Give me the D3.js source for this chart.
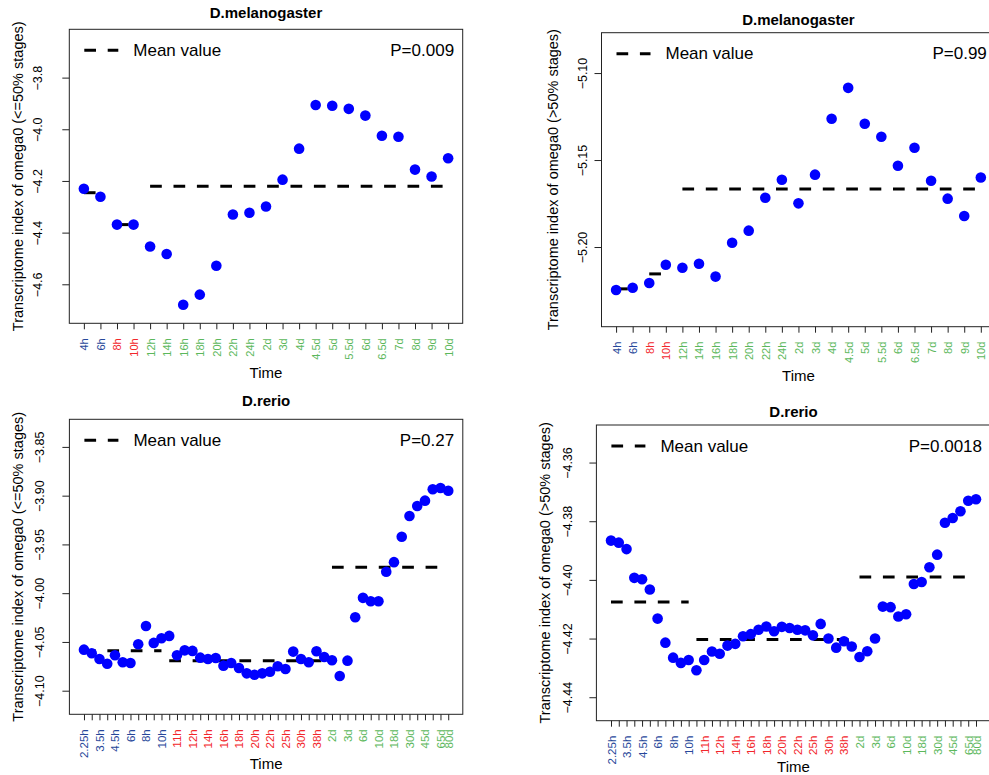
<!DOCTYPE html>
<html>
<head>
<meta charset="utf-8">
<script src="https://cdn.jsdelivr.net/npm/d3@7/dist/d3.min.js"></script>
<style>
  body { margin: 0; background: #fff; }
  text { font-family: "Liberation Sans", Arial, Helvetica, sans-serif; }
</style>
</head>
<body>
<div id="chart"></div>
<script>
// fly stages and the TAI values
const flyStages = ['4h', '6h', '8h', '10h', '12h', '14h', '16h', '18h', '20h', '22h', '24h', '2d', '3d', '4d',
    '4.5d', '5d', '5.5d', '6d', '6.5d', '7d', '8d', '9d', '10d'];
const flyGroupSizes = [2, 2, 19];
const flyEarlyTAI = [-4.230, -4.261, -4.369, -4.369, -4.454, -4.483, -4.679, -4.640, -4.528, -4.330, -4.323, -4.299,
    -4.195, -4.075, -3.906, -3.909, -3.921, -3.947, -4.025, -4.029, -4.156, -4.183, -4.112];
const flyLateTAI = [-5.2247, -5.2234, -5.2207, -5.2102, -5.2119, -5.2096, -5.2170, -5.1975, -5.1906, -5.1717, -5.1613,
    -5.1749, -5.1584, -5.1263, -5.1085, -5.1291, -5.1366, -5.1533, -5.1429, -5.1619, -5.1722, -5.1822, -5.1600];

// zebrafish: only every other stage carries a label in the figure
const zfStages = ['2.25h', '', '3.5h', '', '4.5h', '', '6h', '', '8h', '', '10h', '', '11h', '', '12h', '', '14h', '',
    '16h', '', '18h', '', '20h', '', '22h', '', '25h', '', '30h', '', '38h', '', '2d', '', '3d', '', '6d', '', '10d', '',
    '18d', '', '30d', '', '45d', '', '65d', '80d'];
const zfGroupSizes = [11, 21, 16];
const zfEarlyTAI = [-4.0579, -4.0616, -4.0675, -4.0723, -4.0637, -4.0709, -4.0716, -4.0524, -4.0336, -4.0510,
    -4.0462, -4.0438, -4.0637, -4.0586, -4.0592, -4.0661, -4.0675, -4.0664, -4.0743, -4.0716,
    -4.0767, -4.0822, -4.0836, -4.0822, -4.0805, -4.0750, -4.0777, -4.0599, -4.0675, -4.0709,
    -4.0596, -4.0654, -4.0688, -4.0849, -4.0692, -4.0247, -4.0048, -4.0082, -4.0082, -3.9781,
    -3.9682, -3.9421, -3.9209, -3.9106, -3.9051, -3.8935, -3.8921, -3.8949];
const zfLateTAI = [-4.3866, -4.3873, -4.3895, -4.3993, -4.3998, -4.4033, -4.4132, -4.4214, -4.4265, -4.4283,
    -4.4273, -4.4308, -4.4273, -4.4244, -4.4252, -4.4224, -4.4218, -4.4192, -4.4185, -4.4170,
    -4.4159, -4.4175, -4.4160, -4.4164, -4.4170, -4.4172, -4.4189, -4.4150, -4.4200, -4.4231,
    -4.4209, -4.4227, -4.4263, -4.4243, -4.4200, -4.4091, -4.4093, -4.4125, -4.4117, -4.4014,
    -4.4007, -4.3957, -4.3914, -4.3805, -4.3789, -4.3766, -4.3730, -4.3725];

const stageColors = ['#27479a', '#f2262b', '#5cb85c'];

const panels = [
    {
        title: 'D.melanogaster', stages: flyStages, groups: flyGroupSizes, values: flyEarlyTAI, pval: 'P=0.009',
        ylab: 'Transcriptome index of omega0 (<=50% stages)', yDomain: [-4.751, -3.613],
        yTicks: [-4.6, -4.4, -4.2, -4.0, -3.8], fmt: '.1f',
        box: { l: 69.3, r: 462.7, t: 29.3, b: 323.3 }, titleY: 12, tickLabX: 38, yLabX: 18, timeY: 372, xFont: 11
    },
    {
        title: 'D.melanogaster', stages: flyStages, groups: flyGroupSizes, values: flyLateTAI, pval: 'P=0.99',
        ylab: 'Transcriptome index of omega0 (>50% stages)', yDomain: [-5.2458, -5.0768],
        yTicks: [-5.20, -5.15, -5.10], fmt: '.2f',
        box: { l: 601.5, r: 995.4, t: 32.7, b: 326.7 }, titleY: 19, tickLabX: 583, yLabX: 553, timeY: 375, xFont: 11
    },
    {
        title: 'D.rerio', stages: zfStages, groups: zfGroupSizes, values: zfEarlyTAI, pval: 'P=0.27',
        ylab: 'Transcriptome index of omega0 (<=50% stages)', yDomain: [-4.1242, -3.8217],
        yTicks: [-4.10, -4.05, -4.00, -3.95, -3.90, -3.85], fmt: '.2f',
        box: { l: 69.4, r: 462.8, t: 419.3, b: 714.3 }, titleY: 400, tickLabX: 40, yLabX: 18, timeY: 763, xFont: 11.5
    },
    {
        title: 'D.rerio', stages: zfStages, groups: zfGroupSizes, values: zfLateTAI, pval: 'P=0.0018',
        ylab: 'Transcriptome index of omega0 (>50% stages)', yDomain: [-4.448, -4.3472],
        yTicks: [-4.44, -4.42, -4.40, -4.38, -4.36], fmt: '.2f',
        box: { l: 596.4, r: 990.6, t: 425, b: 720.7 }, titleY: 411, tickLabX: 568, yLabX: 545, timeY: 766.5, xFont: 11.5
    }
];

const svg = d3.select('#chart')
    .append('svg')
    .attr('width', 989)
    .attr('height', 775);

const minus = s => s.replace('-', '\u2212');

function drawPanel(p) {
    const n = p.values.length;
    const pad = (n - 1) * 0.04;
    const x = d3.scaleLinear().domain([-pad, n - 1 + pad]).range([p.box.l, p.box.r]);
    const y = d3.scaleLinear().domain(p.yDomain).range([p.box.b, p.box.t]);

    // group index of every stage
    const groupOf = [];
    p.groups.forEach((size, g) => d3.range(size).forEach(() => groupOf.push(g)));

    const g = svg.append('g');

    // title
    g.append('text')
        .attr('x', (p.box.l + p.box.r) / 2)
        .attr('y', p.titleY)
        .attr('text-anchor', 'middle')
        .attr('dominant-baseline', 'central')
        .style('font-size', '15px')
        .style('font-weight', 'bold')
        .text(p.title);

    // x axis
    const xAxis = g.append('g')
        .attr('transform', `translate(0, ${p.box.b})`)
        .call(d3.axisBottom(x).tickValues(d3.range(n)).tickSize(6).tickSizeOuter(0)
            .tickFormat(i => p.stages[i]));
    xAxis.select('.domain').remove();
    xAxis.selectAll('line').attr('stroke', '#222');
    xAxis.selectAll('text')
        .attr('x', 0)
        .attr('y', 0)
        .attr('dy', null)
        .attr('transform', 'translate(0, 15) rotate(-90)')
        .attr('text-anchor', 'end')
        .attr('dominant-baseline', 'central')
        .attr('fill', (d, i) => stageColors[groupOf[i]])
        .style('font-size', p.xFont + 'px');

    // y axis
    const yAxis = g.append('g')
        .attr('transform', `translate(${p.box.l}, 0)`)
        .call(d3.axisLeft(y).tickValues(p.yTicks).tickSize(7).tickSizeOuter(0)
            .tickFormat(v => minus(d3.format(p.fmt)(v))));
    yAxis.select('.domain').remove();
    yAxis.selectAll('line').attr('stroke', '#222');
    yAxis.selectAll('text')
        .attr('x', 0)
        .attr('dy', null)
        .attr('transform', `translate(${p.tickLabX - p.box.l}, 0) rotate(-90)`)
        .attr('text-anchor', 'middle')
        .attr('dominant-baseline', 'central')
        .attr('fill', '#000')
        .style('font-size', '12.5px');

    // box
    g.append('rect')
        .attr('x', p.box.l)
        .attr('y', p.box.t)
        .attr('width', p.box.r - p.box.l)
        .attr('height', p.box.b - p.box.t)
        .attr('fill', 'none')
        .attr('stroke', '#222')
        .attr('stroke-width', 1);

    // axis titles
    g.append('text')
        .attr('x', (p.box.l + p.box.r) / 2)
        .attr('y', p.timeY)
        .attr('text-anchor', 'middle')
        .attr('dominant-baseline', 'central')
        .style('font-size', '15px')
        .text('Time');

    g.append('text')
        .attr('transform', `translate(${p.yLabX}, ${(p.box.t + p.box.b) / 2}) rotate(-90)`)
        .attr('text-anchor', 'middle')
        .attr('dominant-baseline', 'central')
        .style('font-size', '14.5px')
        .text(p.ylab);

    // mean value of each stage group
    let start = 0;
    const means = p.groups.map(size => {
        const m = { from: start, to: start + size - 1, mean: d3.mean(p.values.slice(start, start + size)) };
        start += size;
        return m;
    });

    g.selectAll('.mean')
        .data(means)
        .enter()
        .append('line')
        .attr('x1', d => x(d.from))
        .attr('x2', d => x(d.to))
        .attr('y1', d => y(d.mean))
        .attr('y2', d => y(d.mean))
        .attr('stroke', '#000')
        .attr('stroke-width', 3)
        .attr('stroke-dasharray', '11.7 11.7');

    g.selectAll('.dot')
        .data(p.values)
        .enter()
        .append('circle')
        .attr('cx', (d, i) => x(i))
        .attr('cy', d => y(d))
        .attr('r', 5.3)
        .attr('fill', '#0000ff');

    // legend
    const ly = p.box.t + 21;
    g.append('line')
        .attr('x1', p.box.l + 15)
        .attr('x2', p.box.l + 49)
        .attr('y1', ly)
        .attr('y2', ly)
        .attr('stroke', '#000')
        .attr('stroke-width', 3)
        .attr('stroke-dasharray', '11.7 11.7');

    g.append('text')
        .attr('x', p.box.l + 64)
        .attr('y', ly)
        .attr('dominant-baseline', 'central')
        .style('font-size', '17px')
        .text('Mean value');

    g.append('text')
        .attr('x', p.box.r - 8.6)
        .attr('y', ly)
        .attr('text-anchor', 'end')
        .attr('dominant-baseline', 'central')
        .style('font-size', '17px')
        .text(p.pval);
}

panels.forEach(drawPanel);
</script>
</body>
</html>
